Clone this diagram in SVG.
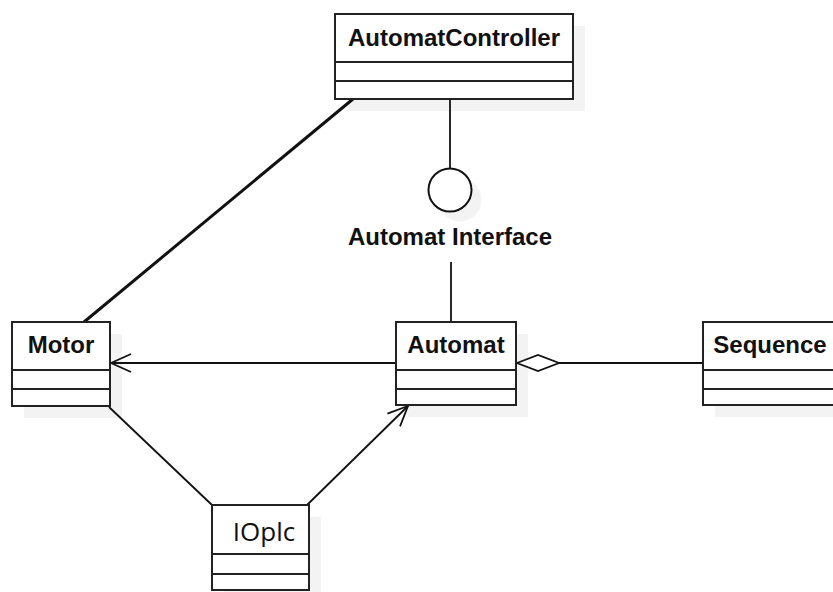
<svg xmlns="http://www.w3.org/2000/svg" width="833" height="592" viewBox="0 0 833 592">
  <style>
    .box { fill: #ffffff; stroke: #222222; stroke-width: 2; }
    .sep { stroke: #222222; stroke-width: 2; }
    .shadow { fill: #f3f3f3; stroke: none; }
    .title { font-family: "Liberation Sans", Arial, sans-serif; font-weight: bold; font-size: 24px; fill: #111111; text-anchor: middle; }
    .plain { font-family: "Open Sans", "Liberation Sans", sans-serif; font-size: 26px; fill: #111111; text-anchor: middle; }
    .edge { stroke: #111111; stroke-width: 1.8; fill: none; }
    .thick { stroke: #111111; stroke-width: 3; fill: none; }
  </style>
  <defs>
    <marker id="open" viewBox="0 0 22 20" refX="21" refY="10" markerWidth="22" markerHeight="20" markerUnits="userSpaceOnUse" orient="auto">
      <path d="M1,1 L21,10 L1,19" fill="none" stroke="#111111" stroke-width="1.8"/>
    </marker>
  </defs>
  <rect width="833" height="592" fill="#ffffff"/>

  <!-- drop shadows -->
  <g id="shadows">
    <rect class="shadow" x="347" y="26" width="238" height="85"/>
    <rect class="shadow" x="24" y="334" width="98" height="84"/>
    <rect class="shadow" x="408" y="334" width="120" height="83"/>
    <rect class="shadow" x="715" y="334" width="130" height="83"/>
    <rect class="shadow" x="224" y="517" width="97" height="85"/>
    <circle class="shadow" cx="460" cy="200" r="21.5"/>
  </g>

  <g id="connectors">
    <line class="thick" x1="353" y1="99" x2="84" y2="322"/>
    <line class="edge" x1="450" y1="99" x2="450" y2="168"/>
    <line class="edge" x1="451" y1="262" x2="451" y2="321"/>
    <line class="edge" x1="396" y1="363" x2="111" y2="363" marker-end="url(#open)"/>
    <line class="edge" x1="703" y1="363" x2="559" y2="363"/>
    <path d="M517,363 L538,355 L559,363 L538,371 Z" fill="#ffffff" stroke="#111111" stroke-width="1.8"/>
    <line class="edge" x1="109" y1="407" x2="212" y2="505"/>
    <line class="edge" x1="307" y1="505" x2="408" y2="406" marker-end="url(#open)"/>
  </g>

  <g id="AutomatController">
    <rect class="box" x="335" y="14" width="238" height="85"/>
    <line class="sep" x1="335" y1="62" x2="573" y2="62"/>
    <line class="sep" x1="335" y1="81" x2="573" y2="81"/>
    <text class="title" x="454" y="46">AutomatController</text>
  </g>

  <g id="AutomatInterface">
    <circle cx="450" cy="190" r="21.5" fill="#ffffff" stroke="#111111" stroke-width="2"/>
    <text class="title" x="450" y="245">Automat Interface</text>
  </g>

  <g id="Motor">
    <rect class="box" x="12" y="322" width="98" height="84"/>
    <line class="sep" x1="12" y1="370" x2="110" y2="370"/>
    <line class="sep" x1="12" y1="389" x2="110" y2="389"/>
    <text class="title" x="61" y="353">Motor</text>
  </g>

  <g id="Automat">
    <rect class="box" x="396" y="322" width="120" height="83"/>
    <line class="sep" x1="396" y1="370" x2="516" y2="370"/>
    <line class="sep" x1="396" y1="389" x2="516" y2="389"/>
    <text class="title" x="456" y="353">Automat</text>
  </g>

  <g id="Sequence">
    <rect class="box" x="703" y="322" width="140" height="83"/>
    <line class="sep" x1="703" y1="370" x2="843" y2="370"/>
    <line class="sep" x1="703" y1="389" x2="843" y2="389"/>
    <text class="title" x="770" y="353">Sequence</text>
  </g>

  <g id="IOplc">
    <rect class="box" x="212" y="505" width="97" height="85"/>
    <line class="sep" x1="212" y1="554" x2="309" y2="554"/>
    <line class="sep" x1="212" y1="574" x2="309" y2="574"/>
    <text class="plain" x="264" y="541">IOplc</text>
  </g>
</svg>
